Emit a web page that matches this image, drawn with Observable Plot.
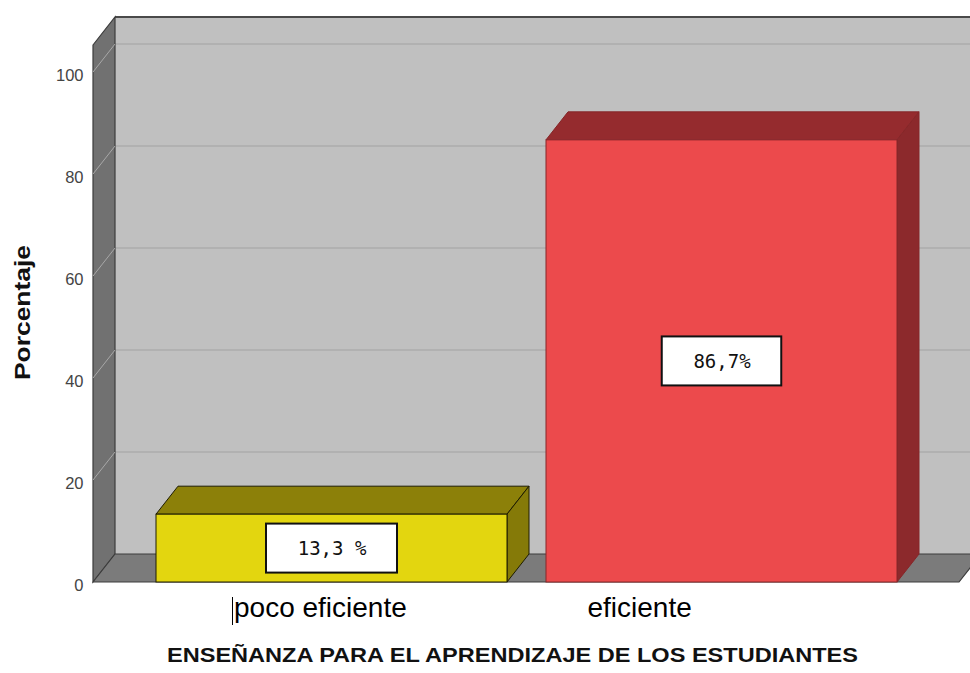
<!DOCTYPE html>
<html><head><meta charset="utf-8">
<script src="https://cdn.jsdelivr.net/npm/d3@7"></script>
<script src="https://cdn.jsdelivr.net/npm/@observablehq/plot@0.6"></script>
<style>body{margin:0;background:#fff} svg{display:block}</style>
</head><body><div id="chart"></div>
<script>
const categories = ["poco eficiente", "eficiente"];
const percentages = [13.3, 86.7];
const valueLabels = ["13,3 %", "86,7%"];
const yTicks = [0, 20, 40, 60, 80, 100];
const yDomain = [0, 105.3];
const frontColors = ["#e3d60f", "#ec4a4c"];
const topColors = ["#8c8009", "#952b2e"];
const sideColors = ["#857a08", "#8c292c"];
const edgeColors = ["#1e1c00", "#862628"];
const yTitle = "Porcentaje";
const xTitle = "ENSEÑANZA PARA EL APRENDIZAJE DE LOS ESTUDIANTES";

const DX = 22, DY = -28; // 3D depth offset (px)
const data = categories.map((c, i) => ({category: c, value: percentages[i], label: valueLabels[i], i}));

function pts(a) { return a.map(p => p.join(",")).join(" "); }

// walls, floor, gridlines
function walls(index, scales, values, dims) {
  const {y} = scales;
  const g = d3.create("svg:g");
  const x0 = dims.marginLeft, x1 = dims.width - dims.marginRight;
  const yb = y(0), yt = y(yDomain[1]);
  const xr = x1 + DX + 60;
  g.append("polygon").attr("points", pts([[x0+DX, yt+DY],[xr, yt+DY],[xr, yb+DY],[x0+DX, yb+DY]]))
    .attr("fill", "#c0c0c0");
  g.append("line").attr("x1", x0+DX).attr("x2", xr).attr("y1", yt+DY).attr("y2", yt+DY)
    .attr("stroke", "#4a4a4a").attr("stroke-width", 2);
  for (const v of yTicks) {
    if (v === 0) continue;
    g.append("line").attr("x1", x0+DX).attr("x2", xr).attr("y1", y(v)+DY).attr("y2", y(v)+DY)
      .attr("stroke", "#b1b1b1").attr("stroke-width", 2);
  }
  g.append("polygon").attr("points", pts([[x0, yt],[x0+DX, yt+DY],[x0+DX, yb+DY],[x0, yb]]))
    .attr("fill", "#717171").attr("stroke", "#3c3c3c").attr("stroke-width", 1.2);
  for (const v of yTicks) {
    if (v === 0) continue;
    g.append("line").attr("x1", x0).attr("x2", x0+DX).attr("y1", y(v)).attr("y2", y(v)+DY)
      .attr("stroke", "#a8a8a8").attr("stroke-width", 1);
  }
  g.append("polygon").attr("points", pts([[x0, yb],[x0+DX, yb+DY],[x1+DX, yb+DY],[x1, yb]]))
    .attr("fill", "#7b7b7b").attr("stroke", "#3c3c3c").attr("stroke-width", 1.2);
  return g.node();
}

// top and side faces of the bars
function barDepth(index, scales, values, dims) {
  const {x, y} = scales;
  const g = d3.create("svg:g");
  const w = x.bandwidth();
  for (const d of data) {
    const xl = x(d.category), yt = y(d.value), yb = y(0);
    g.append("polygon").attr("points", pts([[xl, yt],[xl+DX, yt+DY],[xl+w+DX, yt+DY],[xl+w, yt]]))
      .attr("fill", topColors[d.i]).attr("stroke", edgeColors[d.i]).attr("stroke-width", 1);
    g.append("polygon").attr("points", pts([[xl+w, yt],[xl+w+DX, yt+DY],[xl+w+DX, yb+DY],[xl+w, yb]]))
      .attr("fill", sideColors[d.i]).attr("stroke", edgeColors[d.i]).attr("stroke-width", 1);
  }
  return g.node();
}

// white label boxes
function labelBoxes(index, scales, values, dims) {
  const {x, y} = scales;
  const g = d3.create("svg:g");
  const w = x.bandwidth();
  for (const d of data) {
    const cx = x(d.category) + w / 2, cy = y(d.value / 2);
    const bw = d.label.length * 11.5 + 62, bh = 49;
    g.append("rect").attr("x", cx - bw/2).attr("y", cy - bh/2).attr("width", bw).attr("height", bh)
      .attr("fill", "#ffffff").attr("stroke", "#111").attr("stroke-width", 2);
  }
  // small text-cursor mark seen before the first category label
  const xc = x(categories[0]) + w / 2 - 99;
  g.append("line").attr("x1", xc).attr("x2", xc).attr("y1", y(0) + 15).attr("y2", y(0) + 43)
    .attr("stroke", "#000").attr("stroke-width", 1);
  return g.node();
}

const plot = Plot.plot({
  width: 970,
  height: 673,
  marginLeft: 93,
  marginRight: 11,
  marginTop: 45,
  marginBottom: 91,
  style: {fontFamily: "'Liberation Sans', Arial, sans-serif", background: "#fff"},
  x: {type: "band", domain: categories, paddingInner: 0.1, paddingOuter: 0.159, axis: null},
  y: {domain: yDomain, axis: null},
  color: {type: "identity"},
  marks: [
    walls,
    barDepth,
    Plot.barY(data, {x: "category", y: "value", fill: d => frontColors[d.i], stroke: d => edgeColors[d.i], strokeWidth: 1}),
    labelBoxes,
    Plot.text(data, {x: "category", y: d => d.value / 2, text: "label", fontFamily: "'DejaVu Sans Mono', monospace", fontSize: 19, fill: "#111"}),
    Plot.text(yTicks, {y: d => d, text: d => String(d), frameAnchor: "left", textAnchor: "end", dx: -10, dy: 3, fontSize: 16.5, fill: "#444"}),
    Plot.text([categories[0]], {x: d => d, text: d => d, frameAnchor: "bottom", textAnchor: "start", dx: -98, dy: 34, fontSize: 28, fill: "#000"}),
    Plot.text([categories[1]], {x: d => d, text: d => d, frameAnchor: "bottom", textAnchor: "start", dx: -134.5, dy: 34, fontSize: 28, fill: "#000"}),
    Plot.text([xTitle], {text: d => d, frameAnchor: "bottom", dx: -14, dy: 79, fontSize: 21, fontWeight: "bold", fill: "#111"}),
    Plot.text([yTitle], {text: d => d, frameAnchor: "left", rotate: -90, textAnchor: "start", dx: -71, dy: 66, fontSize: 22, fontWeight: "bold", fill: "#111"})
  ]
});

d3.select(plot).selectAll("text").each(function() {
  const t = this.textContent;
  if (t === xTitle) d3.select(this).attr("textLength", 691).attr("lengthAdjust", "spacingAndGlyphs");
  if (t === yTitle) d3.select(this).attr("textLength", 135).attr("lengthAdjust", "spacingAndGlyphs");
});

document.getElementById("chart").append(plot);
</script>
</body></html>
